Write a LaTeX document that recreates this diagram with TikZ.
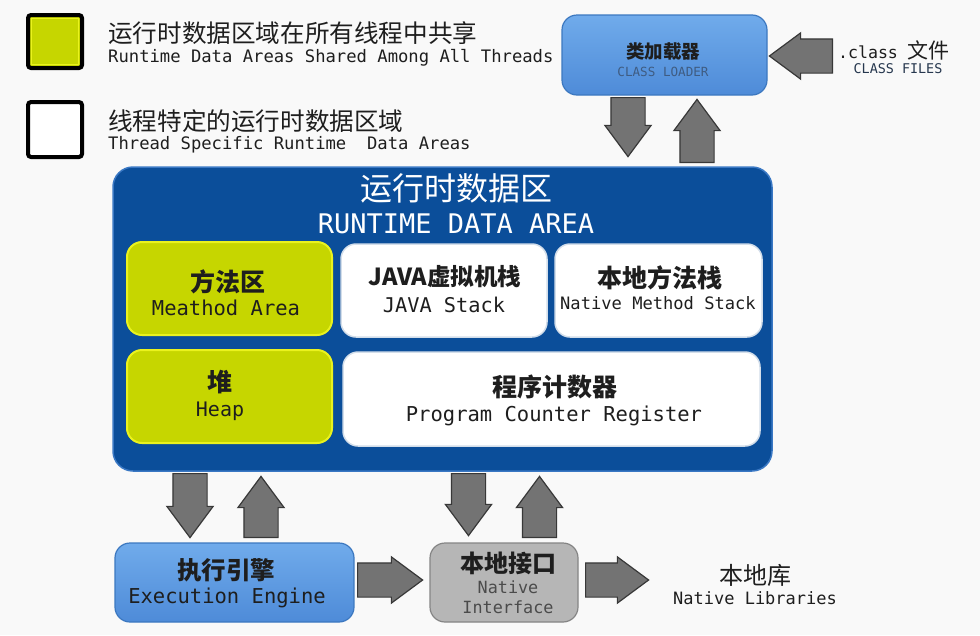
\documentclass[tikz,border=0pt]{standalone}
\usepackage{fontspec}
\setmainfont{Noto Sans CJK SC}
\newfontfamily\cjk{Noto Sans CJK SC}
\newfontfamily\mono{DejaVu Sans Mono}
\usetikzlibrary{shapes.arrows}
\definecolor{bg}{HTML}{F9F9F9}
\definecolor{rdafill}{HTML}{0B4E9A}
\definecolor{rdaedge}{HTML}{3A78C4}
\definecolor{yg}{HTML}{C6D600}
\definecolor{ygedge}{HTML}{EAF21E}
\definecolor{wedge}{HTML}{D3DEEA}
\definecolor{cltop}{HTML}{70ABEB}
\definecolor{clbot}{HTML}{4E8BD8}
\definecolor{cledge}{HTML}{3C78C0}
\definecolor{nifill}{HTML}{B6B6B6}
\definecolor{niedge}{HTML}{858585}
\definecolor{arrfill}{HTML}{737373}
\definecolor{arredge}{HTML}{383838}
\definecolor{txt}{HTML}{1E1E1E}
\definecolor{subtxt}{HTML}{3F5C82}
\newcommand{\fs}[1]{\fontsize{#1}{#1}\selectfont}
\tikzset{
  blockarr/.style={single arrow, draw=arredge, fill=arrfill, line width=1.2pt,
    minimum height=#1, minimum width=0pt, inner xsep=0pt, inner ysep=16.5pt,
    single arrow head extend=6pt, single arrow tip angle=73, anchor=tail},
  rbox/.style={draw, rounded corners=15pt},
  ygbox/.style={rbox, fill=yg, draw=ygedge, line width=2pt},
  wbox/.style={rbox, fill=white, draw=wedge, line width=1.5pt},
  bluebox/.style={rbox, top color=cltop, bottom color=clbot, draw=cledge, line width=1.2pt},
  lbl/.style={inner sep=0pt, text=txt},
}
\begin{document}
\begin{tikzpicture}[x=1pt, y=-1pt]
\useasboundingbox[fill=bg] (0,0) rectangle (980,635);

% legend
\draw[fill=yg, draw=black, line width=4pt, rounded corners=3pt] (28,15) rectangle (82,68);
\draw[draw=ygedge, line width=1.2pt] (31.8,18.8) rectangle (78.2,64.2);
\draw[fill=white, draw=black, line width=4pt, rounded corners=3pt] (28,102) rectangle (82,157);
\node[lbl, anchor=west] (leg1cn) at (108,33) {\cjk\fs{24.6}运行时数据区域在所有线程中共享};
\node[lbl, anchor=west] (leg1en) at (108,58) {\mono\fs{17.2}Runtime Data Areas Shared Among All Threads};
\node[lbl, anchor=west] (leg2cn) at (108,121) {\cjk\fs{24.6}线程特定的运行时数据区域};
\node[lbl, anchor=west] (leg2en) at (108,145) {\mono\fs{17.2}Thread Specific Runtime~ Data Areas};

% class loader
\path[bluebox] (562,15) rectangle (767,95);
\node[lbl] (cl1) at (663,52) {\cjk\bfseries\fs{18.5}类加载器};
\node[lbl, text=subtxt] (cl2) at (663,72) {\mono\fs{12.6}CLASS LOADER};
\node[lbl] (cf1) at (894,50) {\mono\fs{16.6}.class \cjk\fs{21}文件};
\node[lbl, text=subtxt!60!black] (cf2) at (898,69) {\mono\fs{13.4}CLASS FILES};
\node[blockarr=63, rotate=180] (a1) at (833,56) {};
\node[blockarr=59, rotate=-90] (a2) at (628,97) {};
\node[blockarr=63, rotate=90] (a3) at (697,163) {};

% runtime data area
\draw[fill=rdafill, draw=rdaedge, line width=1.5pt, rounded corners=20pt] (113,167) rectangle (772,471);
\node[lbl, text=white] (rda1) at (456,188) {\cjk\fs{32}运行时数据区};
\node[lbl, text=white] (rda2) at (456,224) {\mono\fs{27}RUNTIME DATA AREA};

\path[ygbox] (127,242) rectangle (332,335);
\node[lbl] (ma1) at (228,282) {\cjk\bfseries\fs{25}方法区};
\node[lbl] (ma2) at (226,308) {\mono\fs{20.5}Meathod Area};

\path[wbox] (341,244) rectangle (547,337);
\node[lbl] (js1) at (445,277) {\cjk\bfseries\fs{23.5}JAVA虚拟机栈};
\node[lbl] (js2) at (444,305) {\mono\fs{20.3}JAVA Stack};

\path[wbox] (555,244) rectangle (762,337);
\node[lbl] (nms1) at (660,278) {\cjk\bfseries\fs{25}本地方法栈};
\node[lbl] (nms2) at (658,303) {\mono\fs{17.1}Native Method Stack};

\path[ygbox] (127,350) rectangle (332,443);
\node[lbl] (hp1) at (220,382) {\cjk\bfseries\fs{25}堆};
\node[lbl] (hp2) at (220,411) {\mono\fs{20}Heap};

\path[wbox] (343,352) rectangle (760,446);
\node[lbl] (pc1) at (555,387) {\cjk\bfseries\fs{25}程序计数器};
\node[lbl] (pc2) at (554,416) {\mono\fs{20.5}Program Counter Register};

% bottom row
\path[bluebox] (115,543) rectangle (354,622);
\node[lbl] (ee1) at (226,570) {\cjk\bfseries\fs{24.5}执行引擎};
\node[lbl] (ee2) at (227,598) {\mono\fs{20.5}Execution Engine};

\path[rbox, fill=nifill, draw=niedge, line width=1.2pt] (430,543) rectangle (578,622);
\node[lbl] (ni1) at (508,563) {\cjk\bfseries\fs{24}本地接口};
\node[lbl, text=txt!80] (ni2) at (508,587) {\mono\fs{16.8}Native};
\node[lbl, text=txt!80] (ni3) at (508,607) {\mono\fs{16.8}Interface};

\node[lbl] (lib1) at (755,575) {\cjk\fs{24}本地库};
\node[lbl] (lib2) at (755,598) {\mono\fs{17}Native Libraries};

\node[blockarr=64, rotate=-90] (a4) at (190,473) {};
\node[blockarr=61, rotate=90] (a5) at (261,538) {};
\node[blockarr=62, rotate=-90] (a6) at (468.5,473) {};
\node[blockarr=61, rotate=90] (a7) at (539.5,538) {};
\node[blockarr=65] (a8) at (357,580) {};
\node[blockarr=63] (a9) at (585,580) {};
\end{tikzpicture}
\end{document}
